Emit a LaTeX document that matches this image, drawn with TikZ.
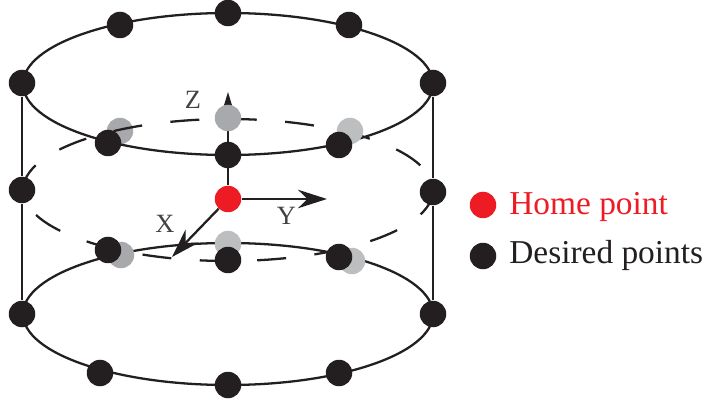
\documentclass[tikz,border=0pt]{standalone}
\usepackage{fontspec}
\setmainfont{Liberation Serif}
\usetikzlibrary{arrows.meta}
\definecolor{ptblack}{HTML}{231F20}
\definecolor{ptred}{HTML}{ED1C24}
\definecolor{ptgray}{HTML}{A7A9AC}
\definecolor{ptlight}{HTML}{BCBEC0}
\tikzset{
  dot/.style={circle, inner sep=0pt, minimum size=0.53cm, fill=#1, draw=none},
  rim/.style={line width=1.3pt, draw=ptblack},
  rimdash/.style={line width=1.3pt, draw=ptblack, dash pattern=on 0.58cm off 0.57cm, dash phase=0.58cm},
  arr/.style={-{Stealth[length=5.8mm, width=3.7mm]}, line width=1.3pt, draw=ptblack},
  axlabel/.style={font=\fontsize{15pt}{16pt}\selectfont, color=ptblack!85},
  legend/.style={anchor=west, inner sep=0pt, font=\fontsize{19pt}{22pt}\selectfont},
}
\begin{document}
\begin{tikzpicture}
  \useasboundingbox (0,0) rectangle (14.14,8.02);
  \node[dot=ptgray] (gfl) at (2.40,5.40) {};
  % cylinder rims
  \draw[rimdash] (4.56,4.22) ellipse [x radius=4.10, y radius=1.42];
  \draw[rim] (4.56,6.34) ellipse [x radius=4.10, y radius=1.42];
  \draw[rim] (4.56,1.74) ellipse [x radius=4.10, y radius=1.42];
  % axes
  \node[dot=ptred] (home) at (4.56,4.04) {};
  \coordinate (xend) at (3.44,2.88);
  \coordinate (yend) at (6.54,4.04);
  \coordinate (zend) at (4.56,6.18);
  \draw[arr] (home) -- (yend);
  \draw[arr, -{Stealth[length=4mm, width=2.4mm]}] (home) -- (zend);
  % grey points
  \node[dot=ptgray] (gfc) at (4.56,5.66) {};
  \node[dot=ptlight] (gfr) at (7.00,5.40) {};
  \node[dot=ptlight] (gic) at (4.56,3.14) {};
  \node[dot=ptgray] (gil) at (2.42,2.92) {};
  \node[dot=ptlight] (gir) at (7.04,2.80) {};
  \draw[arr] (home) -- (xend);
  \node[axlabel] (xlab) at (3.30,3.54) {X};
  \node[axlabel] (ylab) at (5.73,3.70) {Y};
  \node[axlabel] (zlab) at (3.86,6.02) {Z};
  % black points
  \foreach \name/\px/\py in {tl/2.40/7.52, tc/4.56/7.76, tr/6.98/7.52, ls/0.44/6.36, rs/8.66/6.36,
      fl/2.16/5.16, fc/4.56/4.92, fr/6.78/5.12, lm/0.44/4.22, rm/8.66/4.18,
      il/2.16/3.02, ic/4.56/2.82, ir/6.78/2.88, lb/0.44/1.74, rb/8.66/1.74,
      bl/2.00/0.56, bc/4.56/0.32, br/6.78/0.56}
    \node[dot=ptblack] (\name) at (\px,\py) {};
  \draw[rim] (ls) -- (lm);
  \draw[rim] (lm) -- (lb);
  \draw[rim] (rs) -- (rm);
  \draw[rim] (rm) -- (rb);
  % legend
  \node[dot=ptred] (homekey) at (9.66,3.92) {};
  \node[dot=ptblack] (pointkey) at (9.66,2.90) {};
  \node[legend, color=ptred] (hometext) at (10.18,3.88) {Home point};
  \node[legend, color=ptblack] (pointtext) at (10.18,2.91) {Desired points};
\end{tikzpicture}
\end{document}
